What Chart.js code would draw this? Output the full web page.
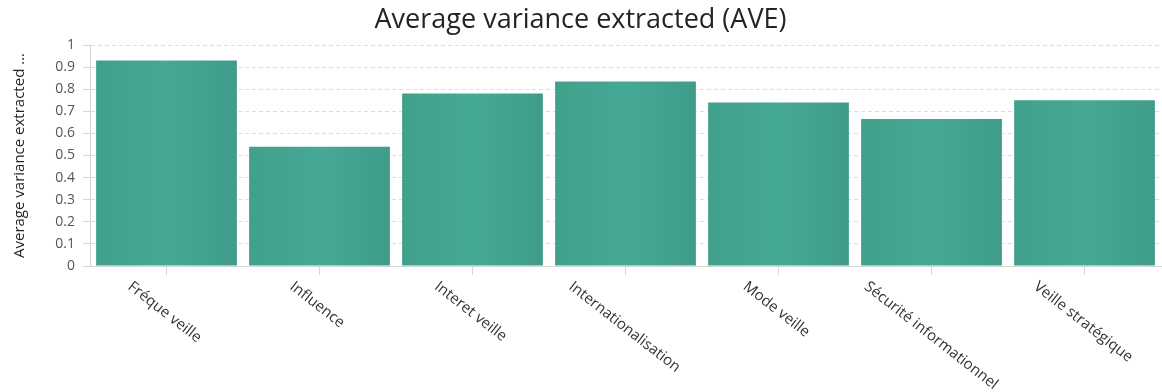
<!DOCTYPE html>
<html>
<head>
<meta charset="utf-8">
<script src="https://cdn.jsdelivr.net/npm/chart.js@4/dist/chart.umd.min.js"></script>
<style>
  html, body { margin: 0; padding: 0; background: #ffffff; }
  #wrap { width: 1162px; height: 392px; position: relative; }
</style>
</head>
<body>
<div id="wrap"><canvas id="chart"></canvas></div>
<script>
// Constructs and their average variance extracted
const categories = [
  'Fréque veille',
  'Influence',
  'Interet veille',
  'Internationalisation',
  'Mode veille',
  'Sécurité informationnel',
  'Veille stratégique'
];
const aveValues = [0.93, 0.54, 0.78, 0.835, 0.74, 0.665, 0.75];
const yTickLabels = ['0', '0.1', '0.2', '0.3', '0.4', '0.5', '0.6', '0.7', '0.8', '0.9', '1'];

const FONT = '"Open Sans", "Noto Sans", sans-serif';
const LABEL_ANGLE = 38 * Math.PI / 180;

// Soft horizontal shading across each bar
function barShade(context) {
  const chart = context.chart;
  const xs = chart.scales.x;
  if (!chart.chartArea || !xs) return '#43a693';
  const center = xs.getPixelForValue(context.dataIndex);
  const half = xs.width / categories.length * 0.92 / 2;
  const g = chart.ctx.createLinearGradient(center - half, 0, center + half, 0);
  g.addColorStop(0, '#40a08c');
  g.addColorStop(0.5, '#46a995');
  g.addColorStop(1, '#3f9c8a');
  return g;
}

// Category names slanted downward to the right beneath each tick
const slantedLabels = {
  id: 'slantedLabels',
  afterDraw(chart) {
    const xs = chart.scales.x;
    const ctx = chart.ctx;
    ctx.save();
    ctx.font = '15px ' + FONT;
    ctx.fillStyle = '#333333';
    ctx.textAlign = 'left';
    ctx.textBaseline = 'top';
    chart.data.labels.forEach((label, i) => {
      const px = xs.getPixelForTick(i);
      const w = ctx.measureText(label).width;
      const sx = px - 0.375 * w + 1;
      const sy = xs.top + 13;
      ctx.save();
      ctx.translate(sx, sy);
      ctx.rotate(LABEL_ANGLE);
      ctx.fillText(label, 0, 0);
      ctx.restore();
    });
    ctx.restore();
  }
};

new Chart(document.getElementById('chart'), {
  type: 'bar',
  data: {
    labels: categories,
    datasets: [{
      label: 'Average variance extracted (AVE)',
      data: aveValues,
      backgroundColor: barShade,
      borderWidth: 0,
      categoryPercentage: 1,
      barPercentage: 0.92
    }]
  },
  options: {
    responsive: true,
    maintainAspectRatio: false,
    animation: false,
    layout: { padding: { left: 0, right: 1, top: 0, bottom: 0 } },
    plugins: {
      legend: { display: false },
      title: {
        display: true,
        text: 'Average variance extracted (AVE)',
        color: '#252423',
        font: { family: FONT, size: 27, weight: 'normal' },
        padding: { top: 4.5, bottom: 8.1 }
      }
    },
    scales: {
      x: {
        afterFit(scale) { scale.height = 126; },
        grid: {
          offset: false,
          drawOnChartArea: false,
          drawTicks: true,
          tickLength: 9,
          tickColor: '#d6d6d6',
          tickWidth: 1
        },
        border: { display: true, color: '#d6d6d6', width: 1 },
        ticks: { display: false }
      },
      y: {
        min: 0,
        max: 1,
        afterFit(scale) { scale.width = 90; },
        ticks: {
          stepSize: 0.05,
          padding: 8,
          color: '#57554f',
          font: { family: FONT, size: 14 },
          callback(value) {
            const text = String(Math.round(value * 100) / 100);
            return yTickLabels.includes(text) ? text : '';
          }
        },
        grid: {
          color: '#dedede',
          lineWidth: 1,
          drawTicks: true,
          tickLength: 7,
          tickColor: '#d6d6d6'
        },
        border: { display: true, color: '#d6d6d6', width: 1, dash: [4, 3] },
        title: {
          display: true,
          text: 'Average variance extracted ...',
          color: '#252423',
          font: { family: FONT, size: 15 },
          padding: { top: 11, bottom: 0 }
        }
      }
    }
  },
  plugins: [slantedLabels]
});
</script>
</body>
</html>
